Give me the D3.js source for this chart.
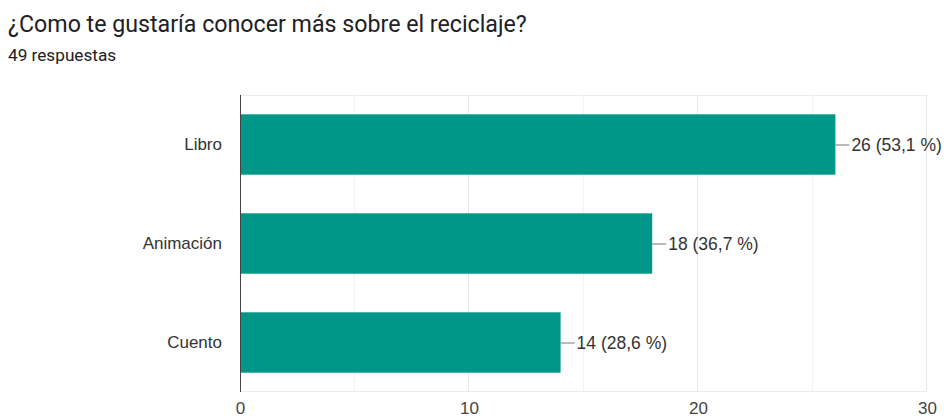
<!DOCTYPE html>
<html>
<head>
<meta charset="utf-8">
<script src="https://cdn.jsdelivr.net/npm/d3@7"></script>
<style>
  html, body { margin: 0; padding: 0; background: #fff; }
  svg { display: block; }
</style>
</head>
<body>
<svg id="chart" width="944" height="418"></svg>
<script>
// Survey results: "¿Como te gustaría conocer más sobre el reciclaje?"
const titleText = "¿Como te gustaría conocer más sobre el reciclaje?";
const subtitleText = "49 respuestas";
const categories = ["Libro", "Animación", "Cuento"];
const counts = [26, 18, 14];
const percentLabels = ["53,1 %", "36,7 %", "28,6 %"];
const xTicks = [0, 10, 20, 30];
const xGridTicks = [5, 10, 15, 20, 25, 30];

const svg = d3.select("#chart");
const labelFont = "'Liberation Sans', Arial, sans-serif";

// Heading
svg.append("text")
  .attr("x", 8).attr("y", 32)
  .attr("font-family", "Roboto, sans-serif")
  .attr("font-size", 23.2)
  .attr("fill", "#202124")
  .text(titleText);

svg.append("text")
  .attr("x", 8).attr("y", 61)
  .attr("font-family", "Roboto, sans-serif")
  .attr("font-size", 17.2)
  .attr("fill", "#202124")
  .text(subtitleText);

// Plot area
const plot = { left: 240, right: 927, top: 95, bottom: 392 };

const x = d3.scaleLinear().domain([0, 30]).range([plot.left, plot.right]);
const y = d3.scaleBand()
  .domain(categories)
  .range([plot.top, plot.bottom])
  .paddingInner(0.39)
  .paddingOuter(0.195);

// Frame and vertical grid
const g = svg.append("g");
g.append("line")
  .attr("x1", plot.left).attr("x2", plot.right)
  .attr("y1", plot.top + 0.5).attr("y2", plot.top + 0.5)
  .attr("stroke", "#ebebeb");
g.append("line")
  .attr("x1", plot.left).attr("x2", plot.right)
  .attr("y1", plot.bottom - 0.5).attr("y2", plot.bottom - 0.5)
  .attr("stroke", "#ebebeb");
g.selectAll("line.grid")
  .data(xGridTicks)
  .join("line")
  .attr("class", "grid")
  .attr("x1", d => Math.round(x(d)) - 0.5)
  .attr("x2", d => Math.round(x(d)) - 0.5)
  .attr("y1", plot.top).attr("y2", plot.bottom)
  .attr("stroke", d => d % 10 === 0 ? "#e6e6e6" : "#f2f2f2");

// Bars
g.selectAll("rect.bar")
  .data(categories)
  .join("rect")
  .attr("class", "bar")
  .attr("x", x(0))
  .attr("y", d => y(d))
  .attr("width", (d, i) => x(counts[i]) - x(0))
  .attr("height", y.bandwidth())
  .attr("fill", "#009688");

// Baseline at zero
g.append("line")
  .attr("x1", x(0) + 0.5).attr("x2", x(0) + 0.5)
  .attr("y1", plot.top).attr("y2", plot.bottom)
  .attr("stroke", "#444")
  .attr("stroke-width", 1);

// Value annotations with leader lines
const ann = g.selectAll("g.ann")
  .data(categories)
  .join("g")
  .attr("class", "ann");
ann.append("line")
  .attr("x1", (d, i) => x(counts[i]))
  .attr("x2", (d, i) => x(counts[i]) + 14)
  .attr("y1", d => y(d) + y.bandwidth() / 2 + 0.5)
  .attr("y2", d => y(d) + y.bandwidth() / 2 + 0.5)
  .attr("stroke", "#777");
ann.append("text")
  .attr("x", (d, i) => x(counts[i]) + 16)
  .attr("y", d => y(d) + y.bandwidth() / 2)
  .attr("dy", "0.35em")
  .attr("font-family", labelFont)
  .attr("font-size", 17.5)
  .attr("fill", "#333")
  .text((d, i) => `${counts[i]} (${percentLabels[i]})`);

// Category axis labels
const yAxis = d3.axisLeft(y).tickSize(0).tickPadding(18);
const yg = svg.append("g")
  .attr("transform", `translate(${plot.left},0)`)
  .call(yAxis);
yg.select(".domain").remove();
yg.selectAll("text")
  .attr("font-family", labelFont)
  .attr("font-size", 17)
  .attr("fill", "#333");

// Value axis labels
const xAxis = d3.axisBottom(x).tickValues(xTicks).tickSize(0).tickPadding(10);
const xg = svg.append("g")
  .attr("transform", `translate(0,${plot.bottom})`)
  .call(xAxis);
xg.select(".domain").remove();
xg.selectAll("text")
  .attr("font-family", labelFont)
  .attr("font-size", 17)
  .attr("fill", "#444");
</script>
</body>
</html>
